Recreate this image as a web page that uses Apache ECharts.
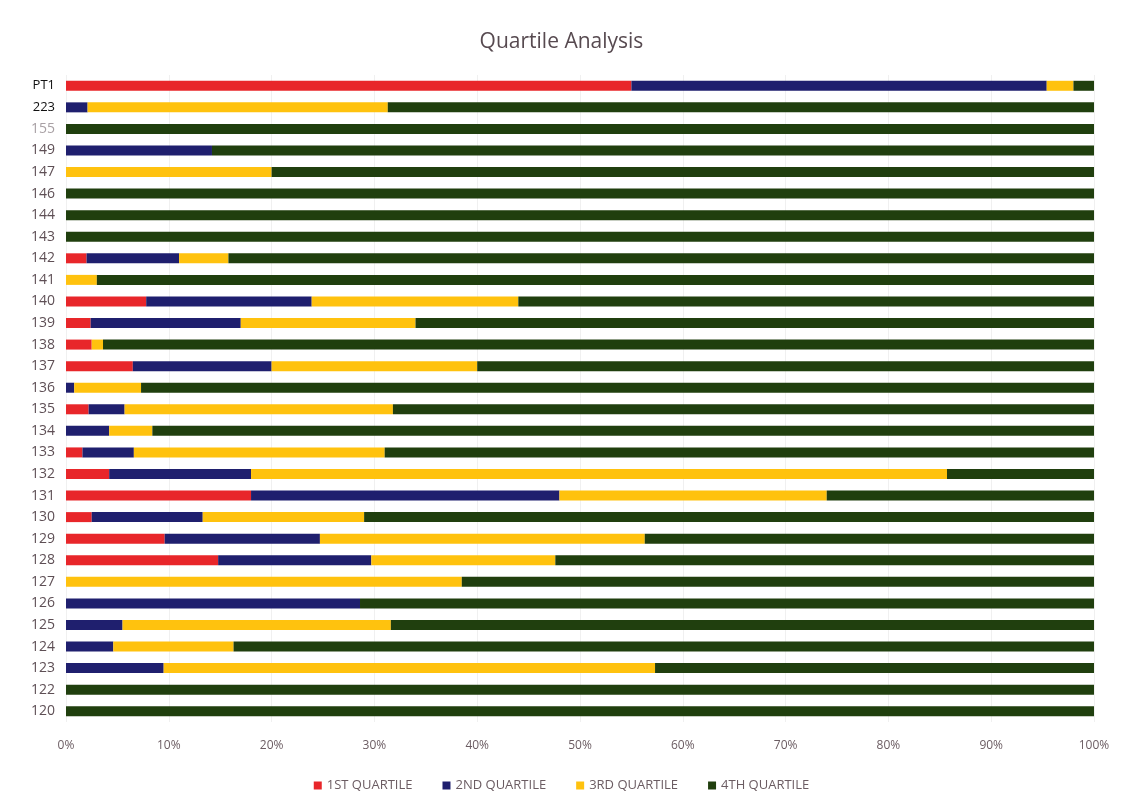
<!DOCTYPE html>
<html><head><meta charset="utf-8">
<script src="https://cdn.jsdelivr.net/npm/echarts@6/dist/echarts.min.js"></script>
<style>html,body{margin:0;padding:0;background:#fff}#c{width:1123px;height:811px}</style>
</head><body><div id="c"></div>
<script>
const categories = ['PT1','223','155','149','147','146','144','143','142','141','140','139','138','137','136','135','134','133','132','131','130','129','128','127','126','125','124','123','122','120'];
const q1 = [55.0,0,0,0,0,0,0,0,2.0,0,7.8,2.4,2.5,6.5,0,2.2,0,1.6,4.2,18.0,2.5,9.6,14.8,0,0,0,0,0,0,0];
const q2 = [40.4,2.1,0,14.2,0,0,0,0,9.0,0,16.1,14.6,0,13.5,0.8,3.5,4.2,5.0,13.8,30.0,10.8,15.1,14.9,0,28.6,5.5,4.6,9.5,0,0];
const q3 = [2.6,29.2,0,0,20.0,0,0,0,4.8,3.0,20.1,17.0,1.1,20.0,6.5,26.1,4.2,24.4,67.7,26.0,15.7,31.6,17.9,38.5,0,26.1,11.7,47.8,0,0];
const q4 = [2.0,68.7,100,85.8,80.0,100,100,100,84.2,97.0,56.0,66.0,96.4,60.0,92.7,68.2,91.6,69.0,14.3,26.0,71.0,43.7,52.4,61.5,71.4,68.4,83.7,42.7,100,100];
const seriesNames = ['1ST QUARTILE','2ND QUARTILE','3RD QUARTILE','4TH QUARTILE'];
const colors = ['#e8262a','#1f1f6e','#ffc20e','#203f0e'];
const xTicks = [0,10,20,30,40,50,60,70,80,90,100];

const chart = echarts.init(document.getElementById('c'));
const font = '"Open Sans", "Noto Sans", sans-serif';
const data = [q1,q2,q3,q4];
chart.setOption({
  backgroundColor:'#fff',
  animation:false,
  title:{text:'Quartile Analysis',left:'center',top:27,textStyle:{fontFamily:font,fontSize:21,fontWeight:'normal',color:'#574a50'}},
  legend:{bottom:14,left:'center',itemWidth:8,itemHeight:8,itemGap:30,icon:'rect',
    textStyle:{fontFamily:font,fontSize:13,color:'#6b5c62'},data:seriesNames},
  grid:{left:66,right:29,top:75,bottom:89,containLabel:false},
  xAxis:{type:'value',min:0,max:100,interval:10,
    axisLabel:{formatter:v=>v+'%',fontFamily:font,fontSize:12,color:'#6b5c62',margin:18},
    axisLine:{show:false},axisTick:{show:false},
    splitLine:{show:true,lineStyle:{color:'#f0f0f0',width:1}}},
  yAxis:{type:'category',data:categories,inverse:true,
    axisLine:{show:false},axisTick:{show:false},
    axisLabel:{fontFamily:font,fontSize:14,color:'#5e4f55',margin:11,
      formatter:v=> (v==='PT1'||v==='223') ? '{b|'+v+'}' : (v==='155' ? '{l|'+v+'}' : v),
      rich:{b:{fontFamily:font,fontSize:13,color:'#111'},l:{fontFamily:font,fontSize:14,color:'#a8a0a4'}}}},
  series: seriesNames.map((n,i)=>({name:n,type:'bar',stack:'t',barWidth:10,
    itemStyle:{color:colors[i]},data:data[i]}))
});
</script></body></html>
